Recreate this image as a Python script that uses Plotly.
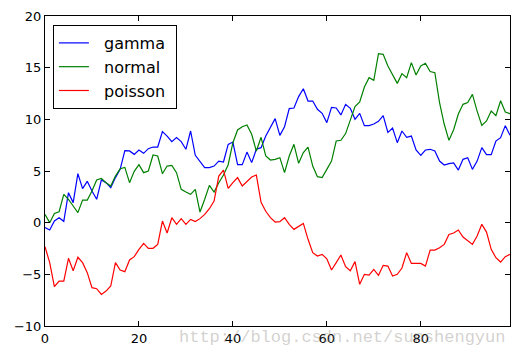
import plotly.graph_objects as go

x_vals = list(range(100))

gamma = [-0.48, -0.71, 0.16, 0.48, 0.13, 2.9, 1.94, 4.74, 3.29, 4.0,
         3.06, 2.26, 4.13, 3.87, 3.39, 4.36, 5.16, 6.97, 6.94, 6.61,
         7.03, 6.71, 7.16, 7.32, 7.32, 8.81, 8.38, 7.84, 8.23, 7.84,
         7.10, 8.87, 6.52, 5.87, 5.32, 5.32, 5.48, 5.96, 5.87, 7.58,
         7.8, 5.61, 5.61, 6.83, 5.81, 7.10, 7.26, 8.38, 9.19, 10.07,
         8.45, 9.29, 11.04, 11.10, 12.2, 12.96, 11.77, 11.77, 10.97, 10.58,
         9.68, 11.16, 11.10, 10.43, 11.45, 11.07, 10.0, 10.58, 9.39, 9.39,
         9.55, 9.81, 10.36, 8.74, 9.16, 7.74, 8.87, 8.26, 8.38, 7.03,
         6.52, 7.03, 7.10, 6.93, 5.96, 5.58, 5.71, 5.78, 5.09, 6.13,
         6.29, 5.16, 5.96, 7.26, 6.58, 6.58, 7.9, 8.23, 9.39, 8.45]

normal = [0.80, 0.0, 0.90, 1.06, 2.74, 2.26, 1.61, 0.97, 2.19, 2.19,
          3.06, 4.13, 4.29, 3.87, 3.55, 4.51, 5.22, 5.35, 3.87, 4.97,
          5.61, 4.84, 5.0, 6.55, 6.45, 4.74, 5.48, 5.55, 4.84, 3.22,
          2.96, 2.74, 3.22, 1.03, 2.26, 3.61, 2.96, 3.87, 4.61, 5.61,
          7.74, 8.97, 9.29, 9.45, 8.55, 6.93, 8.26, 6.45, 6.06, 6.13,
          6.29, 4.84, 6.45, 7.58, 5.74, 6.78, 7.32, 5.48, 4.45, 4.36,
          5.16, 5.96, 7.9, 7.97, 8.62, 10.0, 11.23, 11.68, 13.13, 14.03,
          13.77, 16.36, 16.29, 15.16, 14.29, 13.48, 14.42, 14.03, 15.49, 14.29,
          15.16, 15.42, 14.62, 14.52, 11.62, 9.52, 7.97, 9.0, 10.52, 11.45,
          11.62, 12.42, 10.8, 9.42, 9.84, 10.8, 10.36, 11.8, 10.71, 10.55]

poisson = [-2.32, -3.87, -6.19, -5.65, -5.65, -3.45, -4.65, -3.35, -3.87, -4.84,
           -6.29, -6.39, -6.94, -6.62, -6.13, -3.87, -4.58, -4.74, -3.61, -3.29,
           -2.58, -2.0, -2.48, -2.48, -2.1, 0.16, -1.0, 0.48, -0.16, 0.39,
           -0.16, 0.32, 0.1, 0.39, 0.80, 1.35, 2.09, 4.51, 5.09, 3.32,
           3.87, 4.36, 3.55, 4.03, 4.42, 4.61, 1.97, 1.10, 0.48, 0.06,
           0.1, 0.48, -0.16, -0.65, -0.39, -0.07, -1.61, -2.9, -3.23, -3.07,
           -3.49, -4.58, -3.87, -3.13, -4.26, -4.65, -3.77, -5.97, -5.0, -5.07,
           -4.52, -5.1, -4.13, -4.2, -5.16, -5.0, -4.39, -2.9, -3.94, -3.94,
           -3.94, -4.2, -2.65, -2.65, -2.42, -2.1, -1.14, -1.0, -0.71, -1.39,
           -1.71, -2.1, -1.29, -0.16, -0.91, -2.58, -3.39, -3.81, -3.29, -3.07]

series_names = ["gamma", "normal", "poisson"]
series_colors = ["#0000ff", "#008000", "#ff0000"]
x_ticks = [0, 20, 40, 60, 80]
y_ticks = [-10, -5, 0, 5, 10, 15, 20]
watermark = "http://blog.csdn.net/sunshengyun"

NB = "\u00a0"

fig = go.Figure()
for name, ys, col in zip(series_names, [gamma, normal, poisson], series_colors):
    fig.add_trace(go.Scatter(x=x_vals, y=ys, mode="lines", name=NB * 2 + name + NB,
                             line=dict(color=col, width=1.2)))

axis_common = dict(showgrid=False, zeroline=False, showline=True,
                   linecolor="black", linewidth=1, mirror="ticks",
                   ticks="inside", ticklen=5, tickcolor="black", automargin=False,
                   tickfont=dict(family="DejaVu Sans", size=13, color="black"))

fig.update_layout(
    width=519, height=356,
    margin=dict(l=45, r=9, t=16, b=30, autoexpand=False),
    paper_bgcolor="white", plot_bgcolor="white",
    xaxis=dict(range=[0, 99], tickvals=x_ticks, **axis_common),
    yaxis=dict(range=[-10, 20], tickvals=y_ticks, **axis_common),
    legend=dict(x=0.017, y=0.971, xanchor="left", yanchor="top",
                bordercolor="black", borderwidth=1, bgcolor="white",
                font=dict(family="DejaVu Sans", size=16, color="black")),
    showlegend=True,
)

fig.add_annotation(text=watermark, xref="paper", yref="paper",
                   x=0.9935, y=-0.036, xanchor="right", yanchor="middle",
                   showarrow=False,
                   font=dict(family="Liberation Mono", size=17,
                             color="rgba(150,145,138,0.42)"))

fig.write_html("out.html", config={"displayModeBar": False},
               post_script="document.body.style.margin='0';document.body.style.overflow='hidden';")
